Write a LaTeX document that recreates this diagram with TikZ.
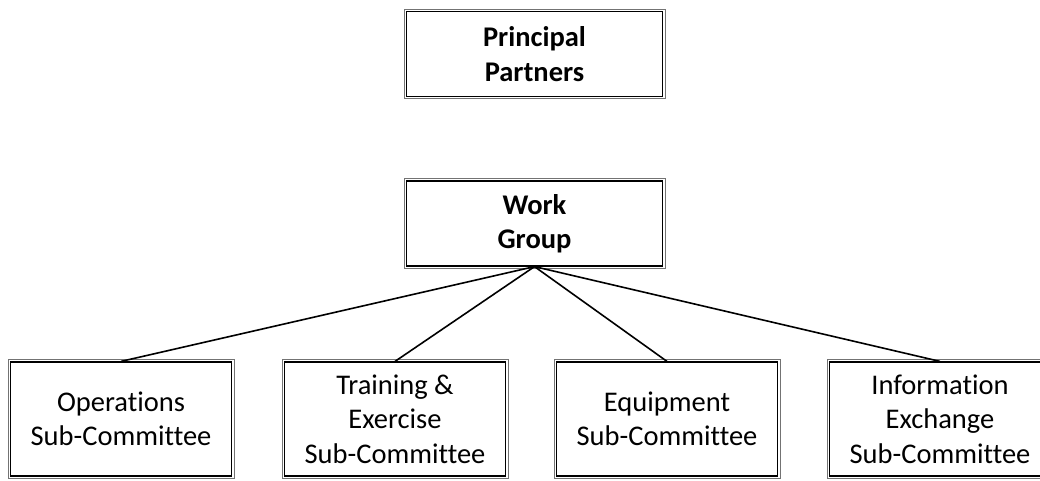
\documentclass[tikz,border=0pt]{standalone}
\usepackage{fontspec}
\setmainfont{Carlito}[Ligatures=NoCommon]
\usepackage{tikz}

\tikzset{
  box/.style={draw=black, line width=1.2pt,
    minimum width=256pt, minimum height=85pt, align=center, inner sep=0pt,
    font=\fontsize{28.5}{34.5}\selectfont},
  subbox/.style={box, minimum width=221pt, minimum height=114pt},
  frame/.style={draw=black!55, line width=0.8pt},
  link/.style={line width=1.6pt}
}

\begin{document}
\begin{tikzpicture}[x=1pt,y=1pt]
  \useasboundingbox (0,0) rectangle (1040,481);

  \node[box] (partners) at (534.5,427) {\textbf{Principal}\\\textbf{Partners}};
  \node[box] (workgroup) at (534.5,257.5) {\textbf{Work}\\\textbf{Group}};

  \node[subbox] (ops) at (121,62) {Operations\\Sub-Committee};
  \node[subbox] (training) at (395,62) {Training \&\\Exercise\\Sub-Committee};
  \node[subbox] (equip) at (667,62) {Equipment\\Sub-Committee};
  \node[subbox] (info) at (940,62) {Information\\Exchange\\Sub-Committee};

  % outer line of each double border
  \foreach \n in {partners,workgroup,ops,training,equip,info}
    \draw[frame] ([shift={(-1.8,-1.8)}]\n.south west) rectangle ([shift={(1.8,1.8)}]\n.north east);

  \draw[link] (workgroup.south) -- (ops.north);
  \draw[link] (workgroup.south) -- (training.north);
  \draw[link] (workgroup.south) -- (equip.north);
  \draw[link] (workgroup.south) -- (info.north);
\end{tikzpicture}
\end{document}
